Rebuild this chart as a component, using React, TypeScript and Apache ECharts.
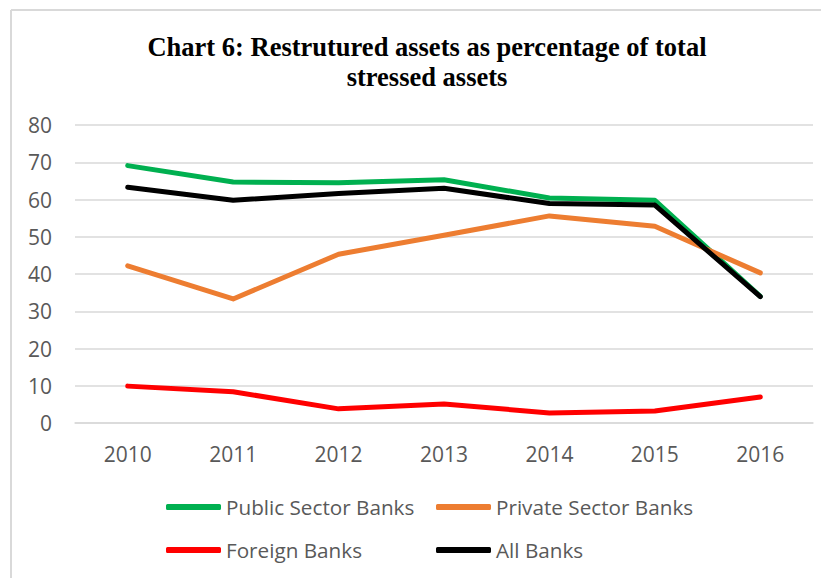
import React, { useEffect, useRef } from "react";
import * as echarts from "echarts";

const years = ["2010", "2011", "2012", "2013", "2014", "2015", "2016"];
const publicSector = [69.1, 64.7, 64.5, 65.3, 60.4, 59.8, 34.0];
const privateSector = [42.2, 33.3, 45.3, 50.4, 55.6, 52.8, 40.3];
const foreignBanks = [9.9, 8.4, 3.8, 5.1, 2.7, 3.2, 7.0];
const allBanks = [63.3, 59.8, 61.6, 63.0, 58.9, 58.5, 33.9];
const yTicks = { min: 0, max: 80, interval: 10 };

const titleText = "Chart 6: Restrutured assets as percentage of total\nstressed assets";

export default function App() {
  const ref = useRef<HTMLDivElement>(null);
  useEffect(() => {
    if (!ref.current) return;
    const chart = echarts.init(ref.current, undefined, { renderer: "svg" });
    const font = "'Open Sans', 'Noto Sans', sans-serif";
    const mk = (name: string, data: number[], color: string) => ({
      name,
      type: "line",
      data,
      symbol: "none",
      lineStyle: { color, width: 5, cap: "round", join: "round" },
      itemStyle: { color },
    });
    const legendAt = (name: string, left: number, top: number) => ({
      data: [name],
      left,
      top,
      padding: 0,
      icon: "roundRect",
      itemWidth: 55,
      itemHeight: 6,
      selectedMode: false,
      textStyle: { fontFamily: font, fontSize: 20.7, color: "#595959", lineHeight: 22 },
    });
    chart.setOption({
      animation: false,
      title: {
        text: titleText,
        left: 419,
        top: 24,
        padding: 0,
        textAlign: "center",
        textStyle: {
          fontFamily: "'Liberation Serif', 'Times New Roman', serif",
          fontWeight: "bold",
          fontSize: 26.5,
          lineHeight: 30,
          color: "#000",
        },
      },
      grid: { left: 67, right: 16, top: 117, bottom: 155 },
      xAxis: {
        type: "category",
        data: years,
        boundaryGap: true,
        axisLine: { show: true, lineStyle: { color: "#d9d9d9", width: 1.5 } },
        axisTick: { show: false },
        axisLabel: { fontFamily: font, fontSize: 21, color: "#595959", margin: 20 },
      },
      yAxis: {
        type: "value",
        min: yTicks.min,
        max: yTicks.max,
        interval: yTicks.interval,
        axisLine: { show: false },
        axisTick: { show: false },
        splitLine: { lineStyle: { color: "#d9d9d9", width: 1.5 } },
        axisLabel: { fontFamily: font, fontSize: 21, color: "#595959", margin: 23 },
      },
      legend: [
        legendAt("Public Sector Banks", 158, 488),
        legendAt("Private Sector Banks", 428, 488),
        legendAt("Foreign Banks", 158, 531),
        legendAt("All Banks", 428, 531),
      ],
      graphic: [
        { type: "line", shape: { x1: 3, y1: 2, x2: 821, y2: 2 }, style: { stroke: "#d9d9d9", lineWidth: 2 } },
        { type: "line", shape: { x1: 3, y1: 2, x2: 3, y2: 570 }, style: { stroke: "#d9d9d9", lineWidth: 2 } },
      ],
      series: [
        mk("Public Sector Banks", publicSector, "#00B050"),
        mk("Private Sector Banks", privateSector, "#ED7D31"),
        mk("Foreign Banks", foreignBanks, "#FF0000"),
        mk("All Banks", allBanks, "#000000"),
      ],
    });
    return () => chart.dispose();
  }, []);
  return <div ref={ref} style={{ width: 821, height: 570 }} />;
}
